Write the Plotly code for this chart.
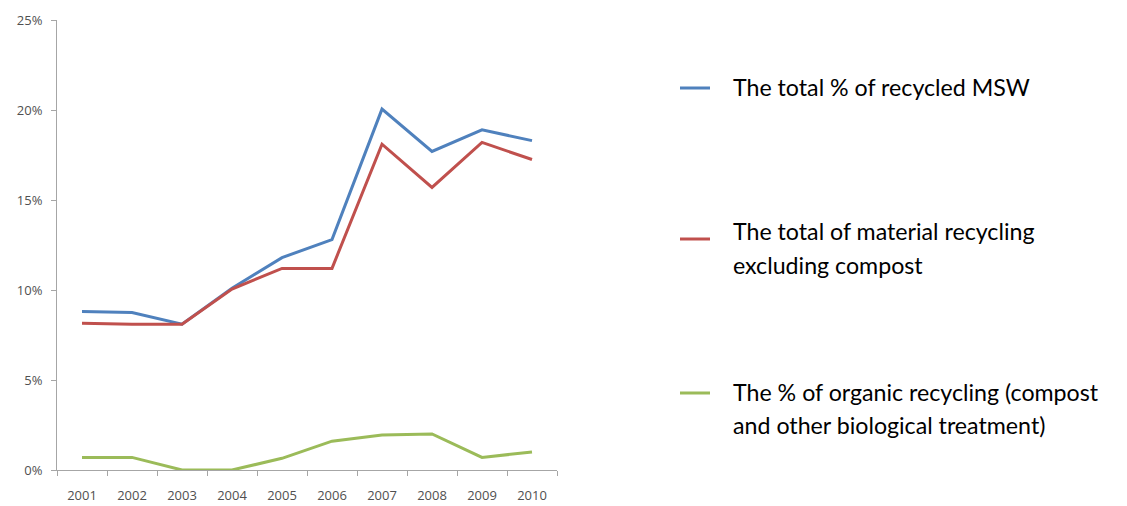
import plotly.graph_objects as go

years = ["2001", "2002", "2003", "2004", "2005", "2006", "2007", "2008", "2009", "2010"]
total_recycled = [8.8, 8.75, 8.1, 10.1, 11.8, 12.8, 20.05, 17.7, 18.9, 18.3]
material_recycling = [8.15, 8.1, 8.1, 10.05, 11.2, 11.2, 18.1, 15.7, 18.2, 17.25]
organic_recycling = [0.7, 0.7, 0.0, 0.0, 0.65, 1.6, 1.95, 2.0, 0.7, 1.0]

series_names = [
    "The total % of recycled MSW",
    "The total of material recycling excluding compost",
    "The % of organic recycling (compost and other biological treatment)",
]
legend_lines = [
    ["The total % of recycled MSW"],
    ["The total of material recycling", "excluding compost"],
    ["The % of organic recycling (compost", "and other biological treatment)"],
]
colors = ["#4F81BD", "#C0504D", "#9BBB59"]
series_values = [total_recycled, material_recycling, organic_recycling]

fig = go.Figure()
for name, vals, col in zip(series_names, series_values, colors):
    fig.add_trace(go.Scatter(x=years, y=vals, mode="lines", name=name,
                             line=dict(color=col, width=3), showlegend=False))

# custom legend (line sample + text) at the right, positions in pixels
X0, X1, Y0, Y1 = 57, 557, 20, 470
def px(x):
    return (x - X0) / (X1 - X0)
def py(y):
    return (Y1 - y) / (Y1 - Y0)

sample_y = [88, 239, 393]
text_rows = [[87], [231, 265], [392, 425]]
for lines, col, sy, rows in zip(legend_lines, colors, sample_y, text_rows):
    fig.add_shape(type="line", xref="paper", yref="paper",
                  x0=px(680), x1=px(710), y0=py(sy), y1=py(sy),
                  line=dict(color=col, width=3))
    for txt, ty in zip(lines, rows):
        fig.add_annotation(xref="paper", yref="paper", x=px(731), y=py(ty),
                           text=txt, showarrow=False, xanchor="left", yanchor="middle",
                           align="left",
                           font=dict(family="Lato, Open Sans, sans-serif", size=23.2,
                                     color="#000000"))

fig.update_layout(
    width=1127, height=506,
    margin=dict(l=57, r=570, t=20, b=36, autoexpand=False),
    paper_bgcolor="white", plot_bgcolor="white",
    font=dict(family="Open Sans, DejaVu Sans, sans-serif", size=13, color="#595959"),
    xaxis=dict(type="category", range=[-0.5, 9.5], showgrid=False, automargin=False,
               showline=True, linecolor="#A6A6A6", linewidth=1,
               ticks="outside", ticklen=5, tickcolor="#A6A6A6", tickson="boundaries",
               ticklabelstandoff=13,
               tickfont=dict(size=13, color="#505050"), zeroline=False),
    yaxis=dict(range=[0, 25], dtick=5, ticksuffix="%", showgrid=False, automargin=False,
               showline=True, linecolor="#A6A6A6", linewidth=1,
               ticks="outside", ticklen=5, tickcolor="#A6A6A6",
               ticklabelstandoff=6,
               tickfont=dict(size=13, color="#505050"), zeroline=False),
)

fig.write_html("out.html")
